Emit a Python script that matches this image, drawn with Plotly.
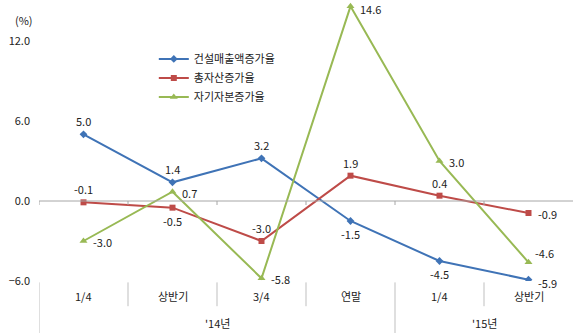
import plotly.graph_objects as go

# Quarterly growth rates (%)
categories = ["1/4", "상반기", "3/4", "연말", "1/4", "상반기"]
year_labels = ["'14년", "'15년"]
year_sizes = [4, 2]

sales_growth = [5.0, 1.4, 3.2, -1.5, -4.5, -5.9]      # 건설매출액증가율
asset_growth = [-0.1, -0.5, -3.0, 1.9, 0.4, -0.9]     # 총자산증가율
equity_growth = [-3.0, 0.7, -5.8, 14.6, 3.0, -4.6]    # 자기자본증가율

series_names = ["건설매출액증가율", "총자산증가율", "자기자본증가율"]

# where each value label sits relative to its point
label_pos = [
    ["top", "top", "top", "bottom", "bottom", "right_low"],
    ["top", "bottom", "top", "top", "top", "right"],
    ["right", "right", "right", "right_low", "right", "top_right"],
]

FONT = "Noto Sans CJK KR, Malgun Gothic, sans-serif"
TXT = "#222222"
AXIS = "#A6A6A6"
COLORS = ["#3F73B6", "#BE4B48", "#98B954"]
SYMBOLS = [("diamond", 6), ("square", 6), ("triangle-up", 7)]

x = list(range(len(categories)))
series = [sales_growth, asset_growth, equity_growth]

fig = go.Figure()
for name, vals, col, (sym, sz) in zip(series_names, series, COLORS, SYMBOLS):
    fig.add_trace(go.Scatter(
        x=x, y=vals, name=name, mode="lines+markers",
        line=dict(color=col, width=2),
        marker=dict(symbol=sym, size=sz, color=col),
    ))

OFFSETS = {
    "top": dict(xanchor="center", xshift=0, yshift=13),
    "bottom": dict(xanchor="center", xshift=0, yshift=-13),
    "right": dict(xanchor="left", xshift=7, yshift=-1),
    "right_low": dict(xanchor="left", xshift=7, yshift=-3),
    "top_right": dict(xanchor="left", xshift=4, yshift=9),
}

annotations = []
for vals, poss in zip(series, label_pos):
    for xi, v, p in zip(x, vals, poss):
        annotations.append(dict(x=xi, y=v, xref="x", yref="y", text=f"{v:.1f}",
                                showarrow=False, yanchor="middle",
                                font=dict(family=FONT, size=11, color=TXT),
                                **OFFSETS[p]))

shapes = []
# zero line with small tick marks at category boundaries
shapes.append(dict(type="line", xref="x", yref="y", x0=-0.5, x1=len(x) - 0.5,
                   y0=0, y1=0, line=dict(color=AXIS, width=1)))
for b in range(len(x)):
    shapes.append(dict(type="line", xref="x", yref="y", ysizemode="pixel", yanchor=0,
                       x0=b - 0.5, x1=b - 0.5, y0=0, y1=-4,
                       line=dict(color=AXIS, width=1)))

# category dividers below the plot
group_edges = [0]
for s in year_sizes:
    group_edges.append(group_edges[-1] + s)
for b in range(len(x)):
    long = b in group_edges
    shapes.append(dict(type="line", xref="x", yref="paper",
                       x0=b - 0.5, x1=b - 0.5, y0=-0.005,
                       y1=-0.2 if long else -0.09,
                       line=dict(color="#BFBFBF", width=1)))

for i, c in enumerate(categories):
    annotations.append(dict(x=i, y=-0.055, xref="x", yref="paper", text=c,
                            showarrow=False, yanchor="middle",
                            font=dict(family=FONT, size=11, color=TXT)))
for g, lab in enumerate(year_labels):
    cx = (group_edges[g] + group_edges[g + 1] - 1) / 2
    annotations.append(dict(x=cx, y=-0.15, xref="x", yref="paper", text=lab,
                            showarrow=False, yanchor="middle",
                            font=dict(family=FONT, size=11, color=TXT)))
# unit label above the value axis
annotations.append(dict(x=0, y=1, xref="paper", yref="paper", text="(%)",
                        showarrow=False, xanchor="center", yanchor="middle",
                        xshift=-15, yshift=-19,
                        font=dict(family=FONT, size=11, color=TXT)))

fig.update_layout(
    width=580, height=333,
    margin=dict(l=39, r=7, t=1, b=52),
    paper_bgcolor="white", plot_bgcolor="white",
    showlegend=True,
    legend=dict(x=0.215, y=0.845, xanchor="left", yanchor="top",
                bgcolor="rgba(0,0,0,0)", font=dict(family=FONT, size=11, color=TXT),
                tracegroupgap=0, itemwidth=30),
    xaxis=dict(range=[-0.5, len(x) - 0.5], showticklabels=False, showgrid=False,
               zeroline=False, showline=False, ticks=""),
    yaxis=dict(range=[-6, 15], tickvals=[-6, 0, 6, 12], tickformat=".1f",
               showgrid=False, zeroline=False, showline=False, ticks="",
               ticklabelstandoff=8,
               tickfont=dict(family=FONT, size=11, color=TXT)),
    shapes=shapes,
    annotations=annotations,
    font=dict(family=FONT),
)

fig.write_html("out.html")
